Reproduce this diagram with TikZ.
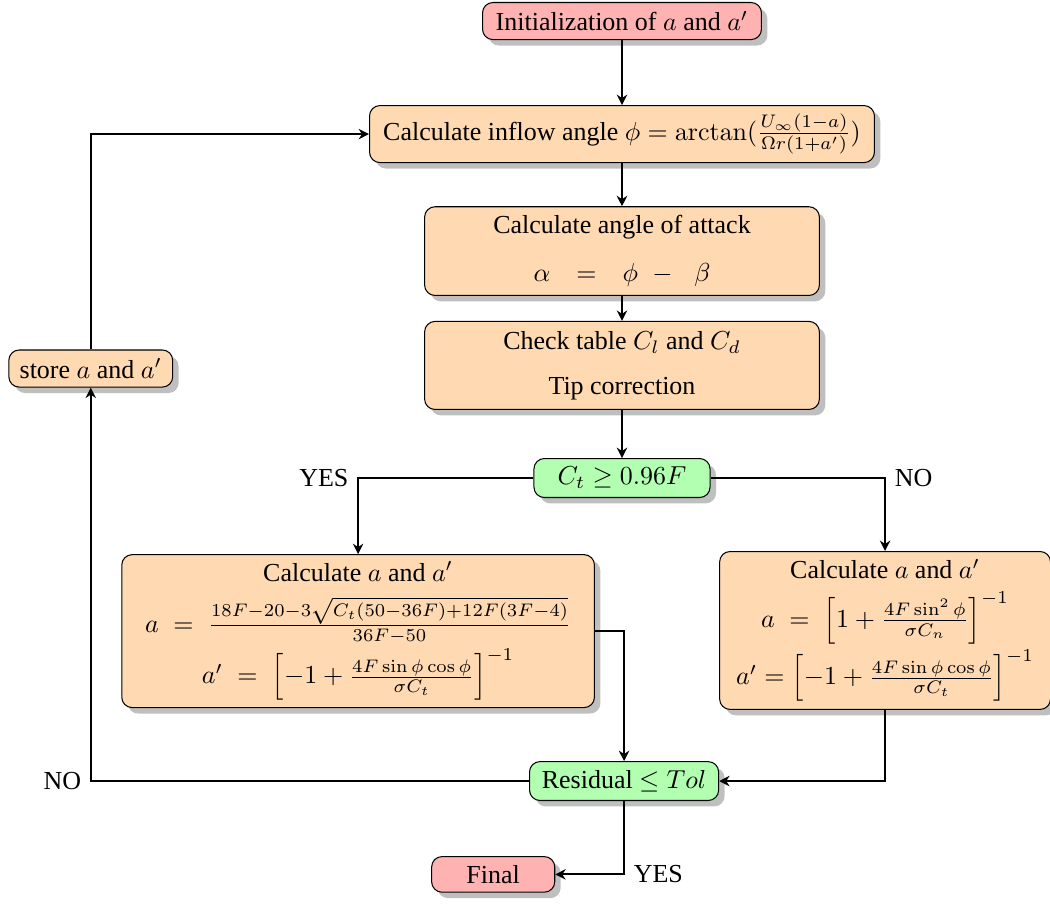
\documentclass[tikz,border=0pt]{standalone}
\usepackage[no-math]{fontspec}
\setmainfont{Liberation Serif}
\usepackage{amsmath,amssymb}
\usetikzlibrary{arrows.meta,positioning,shadows}

\begin{document}
\begin{tikzpicture}[
  node distance=9mm,
  box/.style={draw,rounded corners,align=center,fill=orange!30,drop shadow},
  terminal/.style={box,fill=red!30},
  decision/.style={box,fill=green!30},
  arrow/.style={-{Stealth[length=4pt,width=4pt]},thick},
  line/.style={thick}
]
\useasboundingbox (-239.5pt,8.1pt) rectangle (164.8pt,-343.4pt);
\node[terminal,minimum width=107.4pt,minimum height=14.2pt] (init) at (0,0)
  {Initialization of $a$ and $a'$};
\node[box,below=25pt of init,minimum width=194.4pt,minimum height=21.9pt] (inflow)
  {Calculate inflow angle $\phi=\arctan(\frac{U_\infty(1-a)}{\Omega r(1+a')})$};
\node[box,below=16.6pt of inflow,minimum width=152pt,minimum height=33.9pt] (attack)
  {Calculate angle of attack\\[6.5pt]
   $\alpha\quad{=}\quad\phi\;\;{-}\;\;\;\beta$};
\node[box,below=9.6pt of attack,minimum width=152pt,minimum height=33.9pt] (table)
  {Check table $C_l$ and $C_d$\\[5.3pt]
   Tip correction};
\node[decision,below=18.5pt of table,minimum width=67.8pt,minimum height=15pt] (thrust)
  {$C_t\geq 0.96F$};
\node[box,below=21.6pt of thrust,xshift=-101.6pt,inner ysep=0.5pt,
  minimum width=182pt,minimum height=58.9pt] (glauert)
  {Calculate $a$ and $a'$\\[5pt]
   $a\;=\;\frac{18F-20-3\sqrt{C_t(50-36F)+12F(3F-4)}}{36F-50}$\\[1pt]
   $a'\;=\;\left[-1+\frac{4F\sin\phi\cos\phi}{\sigma C_t}\right]^{-1}$};
\node[box,below=20.4pt of thrust,xshift=101.3pt,inner ysep=0.5pt,
  minimum width=127.4pt,minimum height=60.8pt] (bem)
  {Calculate $a$ and $a'$\\[4pt]
   $a\;=\;\left[1+\frac{4F\sin^2\phi}{\sigma C_n}\right]^{-1}$\\[1pt]
   $a'=\left[-1+\frac{4F\sin\phi\cos\phi}{\sigma C_t}\right]^{-1}$};
\node[decision,below=101.3pt of thrust,xshift=0.8pt,minimum width=72.8pt,minimum height=14.6pt] (resid)
  {Residual $\leq Tol$};
\node[terminal,below=21.2pt of resid,xshift=-50.4pt,minimum width=47.4pt,minimum height=13.5pt] (final)
  {Final};
\node[box,left=96.6pt of table,yshift=-1.2pt,minimum width=63.1pt,minimum height=13.9pt] (store)
  {store $a$ and $a'$};
\draw[arrow] (init)--(inflow);
\draw[arrow] (inflow)--(attack);
\draw[arrow] (attack)--(table);
\draw[arrow] (table)--(thrust);
\draw[arrow] (thrust.west) -| node[pos=0.5,left] {YES} (glauert.north);
\draw[arrow] (thrust.east) -| node[pos=0.5,right] {NO} (bem.north);
\draw[arrow] (glauert.east) -| (resid.north);
\draw[arrow] (bem.south) |- (resid.east);
\draw[arrow] (resid.west) -| node[pos=0.5,left] {NO} (store.south);
\draw[arrow] (store.north) |- (inflow.west);
\draw[arrow] (resid.south) |- node[pos=0.5,right] {YES} (final.east);
\end{tikzpicture}
\end{document}
